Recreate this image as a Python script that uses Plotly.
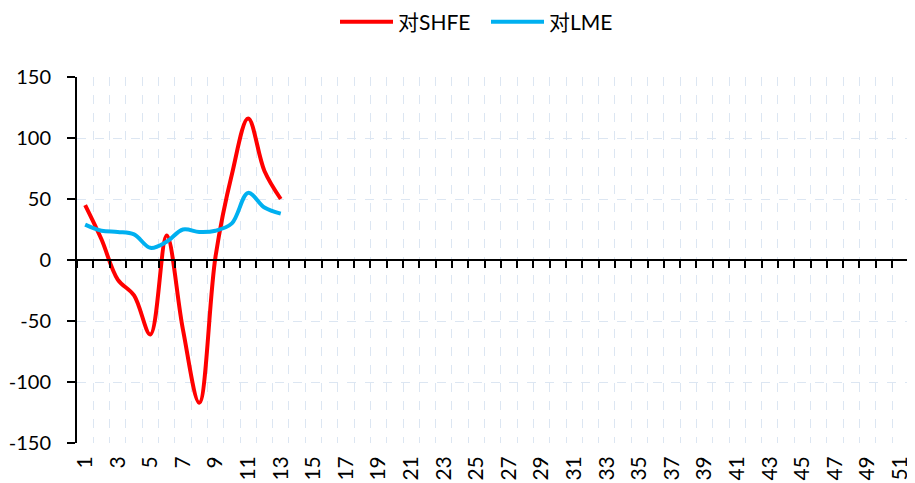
import plotly.graph_objects as go

categories = list(range(1, 53))
shfe_values = [45, 17, -16, -29, -61, 20, -57, -117, 3, 70, 116, 73, 50]
lme_values = [29, 24, 23, 21, 10, 15, 25, 23, 24, 30, 55, 43, 38]
y_ticks = [-150, -100, -50, 0, 50, 100, 150]
y_tick_labels = ["-150", "-100", "-50", "0", "50", "100", "150"]
x_tick_labels = [str(c) for c in categories if c % 2 == 1]

FONT = "Lato, 'Noto Sans CJK SC', sans-serif"
GRID = "#DCE6F2"

fig = go.Figure()
fig.add_trace(go.Scatter(
    x=categories[:len(shfe_values)], y=shfe_values, name="对SHFE",
    mode="lines", line=dict(color="#FF0000", width=4, shape="spline", smoothing=1),
))
fig.add_trace(go.Scatter(
    x=categories[:len(lme_values)], y=lme_values, name="对LME",
    mode="lines", line=dict(color="#00B0F0", width=4, shape="spline", smoothing=1),
))
# helper trace so that the zero-line axis is drawn
fig.add_trace(go.Scatter(
    x=[categories[0]], y=[0], xaxis="x2", mode="markers",
    marker=dict(opacity=0), showlegend=False, hoverinfo="skip",
))

# the visible window ends a little before the last category (chart is cropped on the right)
xrange = [categories[0] - 0.5, 51.91]

# the page body has an 8px default margin, so the figure is sized to fit the window
W, H = 907, 475

fig.update_layout(
    width=W, height=H,
    margin=dict(l=69, r=0, t=69, b=40, autoexpand=False),
    paper_bgcolor="white", plot_bgcolor="white",
    font=dict(family=FONT, size=21, color="#000000"),
    showlegend=True,
    legend=dict(orientation="h", x=327 / W, xref="container", xanchor="left",
                y=1 - 14 / H, yref="container", yanchor="middle", font=dict(size=21),
                itemwidth=53, entrywidth=83, tracegroupgap=0),
    xaxis=dict(
        range=xrange, tickmode="array",
        tickvals=[int(t) for t in x_tick_labels], ticktext=x_tick_labels,
        tickangle=-90, showgrid=False, showline=False, ticks="",
        zeroline=False, automargin=False, ticklabelstandoff=8,
        minor=dict(tick0=0.5, dtick=1, showgrid=True, gridcolor=GRID,
                   griddash="dash", gridwidth=1, ticks=""),
    ),
    xaxis2=dict(
        range=xrange, overlaying="x", anchor="free", position=0.5,
        tickmode="linear", tick0=0.5, dtick=1, ticks="outside", ticklen=7,
        tickwidth=2, tickcolor="black", showticklabels=False,
        showline=True, linecolor="black", linewidth=2, showgrid=False,
        zeroline=False,
    ),
    yaxis=dict(
        range=[-150, 150], tickvals=y_ticks, ticktext=y_tick_labels,
        tickfont=dict(size=20),
        showline=True, linecolor="black",
        linewidth=2, ticks="outside", ticklen=8, tickwidth=2, tickcolor="black",
        showgrid=True, gridcolor=GRID, griddash="dash", gridwidth=1,
        zeroline=False, automargin=False, ticklabelstandoff=12,
    ),
)

fig.write_html("out.html")
